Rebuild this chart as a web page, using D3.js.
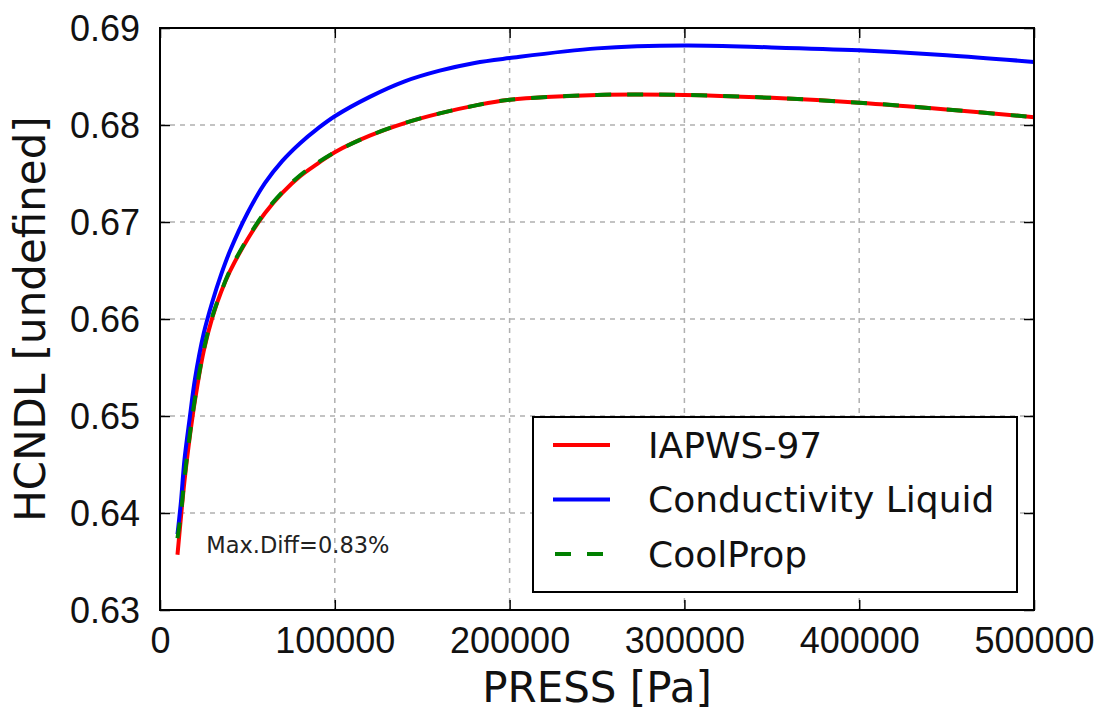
<!DOCTYPE html>
<html>
<head>
<meta charset="utf-8">
<script src="https://cdn.jsdelivr.net/npm/d3@7"></script>
<style>
  body { margin: 0; background: #fff; }
  svg { display: block; font-family: "DejaVu Sans", sans-serif; }
  .grid line { stroke: #b0b0b0; stroke-width: 1.5; stroke-dasharray: 5,5; }
</style>
</head>
<body>
<svg id="chart"></svg>
<script>
// pressure points (Pa)
const pressures = [10000, 12000, 14000, 17000, 20000, 25000, 30000, 35000, 40000, 50000,
  60000, 70000, 80000, 90000, 100000, 120000, 140000, 160000, 180000, 200000,
  250000, 300000, 350000, 400000, 450000, 500000];

const iapwsValues = [0.6357, 0.6396, 0.6433, 0.6478, 0.6516, 0.6567, 0.6602, 0.6628, 0.6649, 0.6682,
  0.6709, 0.6730, 0.6747, 0.6760, 0.6772, 0.6789, 0.6802, 0.6812, 0.6820, 0.6826,
  0.6831, 0.6831, 0.6828, 0.6823, 0.6816, 0.6808];

const liquidValues = [0.6378, 0.6412, 0.6455, 0.6498, 0.6538, 0.6585, 0.6618, 0.6646, 0.6670, 0.6709,
  0.6740, 0.6763, 0.6781, 0.6796, 0.6809, 0.6829, 0.6845, 0.6856, 0.6864, 0.6869,
  0.6879, 0.6882, 0.6880, 0.6877, 0.6872, 0.6865];

const coolpropValues = [0.6374, 0.6400, 0.6436, 0.6480, 0.6518, 0.6568, 0.6603, 0.6628, 0.6650, 0.6683,
  0.6710, 0.6731, 0.6748, 0.6761, 0.6772, 0.6789, 0.6802, 0.6812, 0.6820, 0.6826,
  0.6831, 0.6831, 0.6828, 0.6823, 0.6816, 0.6808];

const seriesNames = ["IAPWS-97", "Conductivity Liquid", "CoolProp"];
const seriesColors = ["#ff0000", "#0000ff", "#008000"];
const seriesDash = [null, null, "16,16"];

const xTicks = [0, 100000, 200000, 300000, 400000, 500000];
const yTicks = [0.63, 0.64, 0.65, 0.66, 0.67, 0.68, 0.69];

const annotation = "Max.Diff=0.83%";

const series = [iapwsValues, liquidValues, coolpropValues].map((vals, i) => ({
  name: seriesNames[i],
  color: seriesColors[i],
  dash: seriesDash[i],
  values: vals.map((v, j) => ({ p: pressures[j], v: v }))
}));

const containerWidth = 1108, containerHeight = 713;
const margin = { top: 28, right: 74, bottom: 103, left: 160 };
const width = containerWidth - margin.left - margin.right;
const height = containerHeight - margin.top - margin.bottom;

const svg = d3.select("#chart")
  .attr("width", containerWidth)
  .attr("height", containerHeight);

const chart = svg.append("g")
  .attr("transform", `translate(${margin.left},${margin.top})`);

// scales
const xScale = d3.scaleLinear().domain([0, 500000]).range([0, width]);
const yScale = d3.scaleLinear().domain([0.63, 0.69]).range([height, 0]);

// grid
chart.append("g").attr("class", "grid")
  .selectAll("line").data(xTicks.slice(1, -1)).join("line")
  .attr("x1", d => xScale(d)).attr("x2", d => xScale(d))
  .attr("y1", 0).attr("y2", height);
chart.append("g").attr("class", "grid")
  .selectAll("line").data(yTicks.slice(1, -1)).join("line")
  .attr("x1", 0).attr("x2", width)
  .attr("y1", d => yScale(d)).attr("y2", d => yScale(d));

// lines
const line = d3.line()
  .x(d => xScale(d.p))
  .y(d => yScale(d.v))
  .curve(d3.curveCatmullRom.alpha(0.5));

chart.selectAll(".series").data(series).join("path")
  .attr("class", "series")
  .attr("fill", "none")
  .attr("stroke", d => d.color)
  .attr("stroke-width", 4)
  .attr("stroke-dasharray", d => d.dash)
  .attr("d", d => line(d.values));

// axes, ticks pointing inward on all four sides
const tickLen = 10;
const xAxis = d3.axisBottom(xScale).tickValues(xTicks).tickFormat(d3.format("d"))
  .tickSizeInner(-tickLen).tickSizeOuter(0).tickPadding(tickLen + 7);
const yAxis = d3.axisLeft(yScale).tickValues(yTicks).tickFormat(d3.format(".2f"))
  .tickSizeInner(-tickLen).tickSizeOuter(0).tickPadding(tickLen + 10);

const xAxisG = chart.append("g").attr("transform", `translate(0,${height})`).call(xAxis);
const yAxisG = chart.append("g").call(yAxis);
chart.append("g").call(d3.axisTop(xScale).tickValues(xTicks).tickFormat("")
  .tickSizeInner(-tickLen).tickSizeOuter(0));
chart.append("g").attr("transform", `translate(${width},0)`)
  .call(d3.axisRight(yScale).tickValues(yTicks).tickFormat("")
  .tickSizeInner(-tickLen).tickSizeOuter(0));

chart.selectAll(".domain").remove();
chart.selectAll(".tick line").attr("stroke", "#000").attr("stroke-width", 1.5);
xAxisG.selectAll("text").style("font-size", "36px").attr("fill", "#111");
yAxisG.selectAll("text").style("font-size", "36px").attr("fill", "#111").attr("dy", "0.35em");

// frame
chart.append("rect")
  .attr("width", width).attr("height", height)
  .attr("fill", "none").attr("stroke", "#000").attr("stroke-width", 2);

// axis titles
chart.append("text")
  .attr("x", width / 2).attr("y", height + 92)
  .attr("text-anchor", "middle")
  .style("font-size", "42px").attr("fill", "#111")
  .text("PRESS [Pa]");

chart.append("text")
  .attr("transform", `translate(${-115},${height / 2}) rotate(-90)`)
  .attr("text-anchor", "middle")
  .style("font-size", "42px").attr("fill", "#111")
  .text("HCNDL [undefined]");

// annotation
chart.append("text")
  .attr("x", xScale(26500)).attr("y", yScale(0.6359))
  .style("font-size", "22.5px").attr("fill", "#222")
  .text(annotation);

// legend
const legend = chart.append("g").attr("transform", "translate(373,389)");
legend.append("rect")
  .attr("width", 484).attr("height", 175)
  .attr("fill", "#fff").attr("stroke", "#000").attr("stroke-width", 2);

const item = legend.selectAll(".item").data(series).join("g")
  .attr("class", "item")
  .attr("transform", (d, i) => `translate(0,${28 + i * 54.5})`);

item.append("line")
  .attr("x1", d => d.dash ? 22 : 20).attr("x2", 77)
  .attr("stroke", d => d.color).attr("stroke-width", 4)
  .attr("stroke-dasharray", d => d.dash);

item.append("text")
  .attr("x", 115).attr("dy", "0.35em")
  .style("font-size", "36px").attr("fill", "#111")
  .text(d => d.name);
</script>
</body>
</html>
